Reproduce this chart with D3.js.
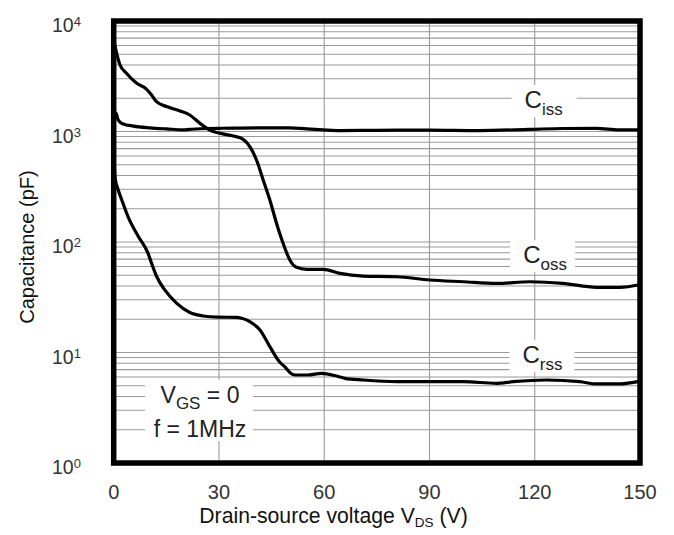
<!DOCTYPE html>
<html><head><meta charset="utf-8">
<script src="https://cdn.jsdelivr.net/npm/d3@7"></script>
<style>
body{margin:0;background:#fff}
svg{display:block}
text{font-family:"Liberation Sans",Arial,sans-serif}
</style>
</head><body>
<svg id="c" width="674" height="535"></svg>
<script>
// ---- data ----
const xTicks = [0, 30, 60, 90, 120, 150];
const yExps = [0, 1, 2, 3, 4];

const cissV = [0, 0.7, 1.3, 2.7, 5.6, 10.3, 15.1, 19.8, 21.7, 26.5, 31.2, 40.7, 50.2, 55, 59.7, 64.5, 75, 90, 104, 118.6, 128, 137.6, 144, 150];
const cissC = [1500, 1460, 1270, 1170, 1120, 1080, 1055, 1035, 1045, 1065, 1070, 1080, 1080, 1055, 1035, 1020, 1025, 1030, 1020, 1045, 1065, 1068, 1035, 1035];

const cossV = [0, 0.85, 1.8, 3.7, 6.55, 9.4, 10.8, 12.2, 15.1, 18.9, 21.7, 24.6, 27.4, 30.3, 34.1, 36.9, 38.8, 40.7, 42.6, 44.5, 46.4, 48.3, 50.2, 52.1, 55, 59.7, 64.5, 71.1, 80.6, 90.1, 99.6, 109.1, 118.6, 128, 137.6, 144.2, 150];
const cossC = [6800, 5100, 4000, 3350, 2730, 2410, 2140, 1860, 1680, 1535, 1410, 1185, 1030, 963, 910, 849, 728, 552, 364, 240, 148, 97, 68.7, 59, 56.6, 56.6, 52, 49.2, 48.5, 45.3, 43.7, 42.2, 43.7, 42.3, 38.9, 38.9, 41];

const crssV = [0, 0.4, 1.3, 2.3, 4.1, 6.9, 9.8, 10.8, 12.2, 14.5, 17.9, 21.7, 25.5, 29.7, 35, 36.5, 38.8, 41.7, 44.5, 47.3, 48.8, 50.2, 51.6, 55.4, 59.2, 63.5, 65.9, 71.1, 80.6, 90.1, 99.6, 109.1, 113.8, 123.3, 132.8, 137.6, 144.2, 150];
const crssC = [600, 380, 296, 240, 169, 114, 79, 64, 49, 37, 28, 23, 21.4, 20.9, 20.8, 20.4, 19, 16, 11.3, 8.2, 7.4, 6.6, 6.26, 6.26, 6.48, 6.13, 5.84, 5.64, 5.44, 5.44, 5.44, 5.26, 5.44, 5.64, 5.44, 5.19, 5.19, 5.5];

// ---- chart ----
const svg = d3.select("#c");
const x = d3.scaleLinear().domain([0, 150]).range([113.7, 640]);
const y = d3.scaleLog().domain([1, 1e4]).range([463, 21]);

const grid = svg.append("g").attr("stroke", "#9a9a9a").attr("stroke-width", 1.1);
const hVals = [];
for (let k = 0; k <= 3; k++) for (let m = 1; m <= 9; m++) { const v = m * Math.pow(10, k); if (v > 1) hVals.push(v); }
grid.selectAll("line.h").data(hVals).join("line")
  .attr("x1", x(0)).attr("x2", x(150))
  .attr("y1", d => y(d)).attr("y2", d => y(d));
grid.selectAll("line.v").data(xTicks.slice(1, -1)).join("line")
  .attr("x1", d => x(d)).attr("x2", d => x(d))
  .attr("y1", y(1e4)).attr("y2", y(1));

// label background boxes + labels
function labelC(vx, vy, sub) {
  const bx = x(vx), by = y(vy);
  svg.append("rect").attr("x", bx - 13).attr("y", by - 23).attr("width", 65).attr("height", 32).attr("fill", "#fff");
  const t = svg.append("text").attr("x", bx).attr("y", by).attr("fill", "#222").attr("font-size", 24);
  t.append("tspan").text("C");
  t.append("tspan").attr("font-size", 17).attr("dy", 6.5).text(sub);
}
labelC(117.1, 1630, "iss");
labelC(116.7, 64.2, "oss");
labelC(116.5, 8.0, "rss");

// conditions
const cx = x(24.6);
svg.append("rect").attr("x", cx - 55).attr("y", y(3.49) - 23).attr("width", 108).attr("height", 61).attr("fill", "#fff");
const t1 = svg.append("text").attr("x", cx).attr("y", y(3.49)).attr("text-anchor", "middle").attr("font-size", 23).attr("fill", "#222");
t1.append("tspan").text("V");
t1.append("tspan").attr("font-size", 17).attr("dy", 6).text("GS");
t1.append("tspan").attr("dy", -6).text(" = 0");
svg.append("text").attr("x", cx).attr("y", y(1.73)).attr("text-anchor", "middle").attr("font-size", 23).attr("fill", "#222").text("f = 1MHz");

// curves
const line = d3.line().x(d => x(d[0])).y(d => y(d[1])).curve(d3.curveMonotoneX);
const series = [[cissV, cissC], [cossV, cossC], [crssV, crssC]];
svg.selectAll("path.s").data(series).join("path")
  .attr("fill", "none").attr("stroke", "#000").attr("stroke-width", 3.2).attr("stroke-linejoin", "round")
  .attr("d", d => line(d[0].map((v, i) => [v, d[1][i]])));

// frame
svg.append("rect").attr("x", x(0)).attr("y", y(1e4)).attr("width", x(150) - x(0)).attr("height", y(1) - y(1e4))
  .attr("fill", "none").attr("stroke", "#000").attr("stroke-width", 5.5);

// x tick labels
svg.selectAll("text.xt").data(xTicks).join("text")
  .attr("x", d => x(d)).attr("y", 499).attr("text-anchor", "middle")
  .attr("font-size", 20).attr("fill", "#333").text(d => d);

// y tick labels
yExps.forEach(e => {
  const t = svg.append("text").attr("x", 52).attr("y", y(Math.pow(10, e)) + 11).attr("font-size", 19.5).attr("fill", "#333");
  t.append("tspan").text("10");
  t.append("tspan").attr("font-size", 13).attr("dy", -6).text(e);
});

// axis titles
const xt = svg.append("text").attr("x", 333.5).attr("y", 523).attr("text-anchor", "middle").attr("font-size", 21.2).attr("fill", "#111");
xt.append("tspan").text("Drain-source voltage V");
xt.append("tspan").attr("font-size", 13.5).attr("dy", 4).text("DS");
xt.append("tspan").attr("dy", -4).text(" (V)");

svg.append("text").attr("transform", "translate(34,247) rotate(-90)").attr("text-anchor", "middle")
  .attr("font-size", 20).attr("fill", "#111").text("Capacitance (pF)");
</script>
</body></html>
